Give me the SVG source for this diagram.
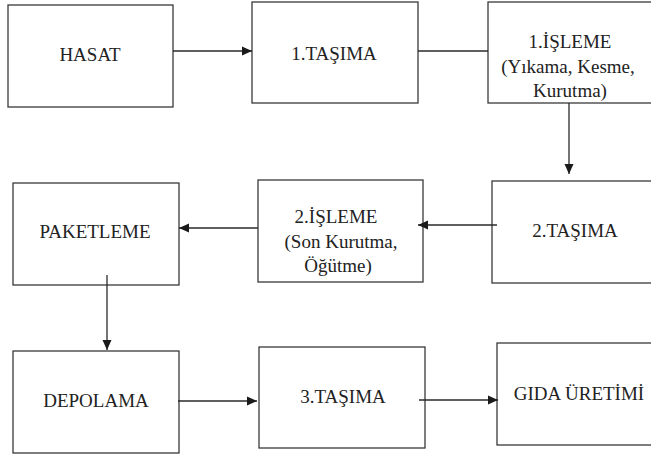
<svg xmlns="http://www.w3.org/2000/svg" width="651" height="454" viewBox="0 0 651 454">
<defs>
<style>
.box{fill:#fff;stroke:#3a3a3a;stroke-width:1.3}
.lbl{font-family:'Liberation Serif','Times New Roman',serif;font-size:19px;fill:#222;text-anchor:middle;font-weight:normal}
.con{stroke:#2a2a2a;stroke-width:1.3;fill:none}
</style>
<marker id="ah" markerUnits="userSpaceOnUse" markerWidth="10" markerHeight="10" refX="10" refY="5" orient="auto" viewBox="0 0 10 10">
<path d="M0,0.5 L10,5 L0,9.5 z" fill="#1a1a1a"/>
</marker>
</defs>
<rect width="651" height="454" fill="#fff"/>
<g font-family="Liberation Serif, serif">
<g id="hasat"><rect class="box" x="8" y="5" width="165" height="102"/><text class="lbl" x="90" y="61">HASAT</text></g>
<g id="tasima1"><rect class="box" x="252" y="2" width="166" height="101"/><text class="lbl" x="334" y="60">1.TAŞIMA</text></g>
<g id="isleme1"><rect class="box" x="488" y="2" width="166" height="101"/>
<text class="lbl" x="570" y="48">1.İŞLEME</text>
<text class="lbl" x="568" y="73">(Yıkama, Kesme,</text>
<text class="lbl" x="570" y="97">Kurutma)</text></g>
<g id="tasima2"><rect class="box" x="492" y="181" width="166" height="102"/><text class="lbl" x="575" y="237">2.TAŞIMA</text></g>
<g id="isleme2"><rect class="box" x="258" y="180" width="165" height="102"/>
<text class="lbl" x="336" y="223">2.İŞLEME</text>
<text class="lbl" x="341" y="248">(Son Kurutma,</text>
<text class="lbl" x="338" y="272">Öğütme)</text></g>
<g id="paketleme"><rect class="box" x="13" y="183" width="166" height="102"/><text class="lbl" x="95" y="238">PAKETLEME</text></g>
<g id="depolama"><rect class="box" x="13" y="351" width="166" height="102"/><text class="lbl" x="96" y="407">DEPOLAMA</text></g>
<g id="tasima3"><rect class="box" x="259" y="347" width="166" height="101"/><text class="lbl" x="343" y="403">3.TAŞIMA</text></g>
<g id="gida"><rect class="box" x="497" y="343" width="166" height="102"/><text class="lbl" x="579" y="400">GIDA ÜRETİMİ</text></g>
</g>
<g id="connectors">
<line class="con" x1="173" y1="51" x2="252" y2="51" marker-end="url(#ah)"/>
<line class="con" x1="418" y1="51" x2="488" y2="51"/>
<line class="con" x1="569" y1="103" x2="569" y2="174" marker-end="url(#ah)"/>
<line class="con" x1="497" y1="225" x2="418" y2="225" marker-end="url(#ah)"/>
<line class="con" x1="258" y1="228" x2="179" y2="228" marker-end="url(#ah)"/>
<line class="con" x1="107" y1="275" x2="107" y2="350" marker-end="url(#ah)"/>
<line class="con" x1="178" y1="401" x2="257" y2="401" marker-end="url(#ah)"/>
<line class="con" x1="419" y1="400" x2="498" y2="400" marker-end="url(#ah)"/>
</g>
</svg>
